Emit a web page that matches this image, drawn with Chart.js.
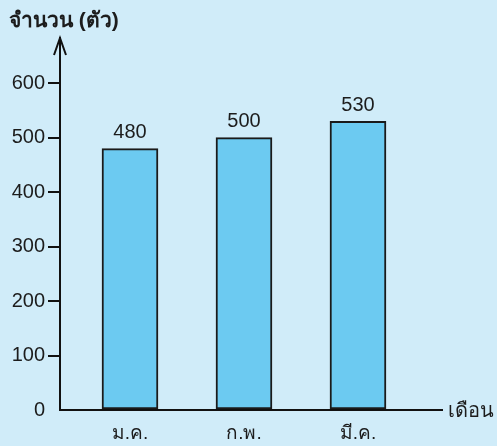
<!DOCTYPE html>
<html>
<head>
<meta charset="utf-8">
<script src="https://cdn.jsdelivr.net/npm/chart.js@4/dist/chart.umd.min.js"></script>
<style>
  html, body { margin: 0; padding: 0; background: #d0ecf9; }
  #wrap { width: 497px; height: 446px; position: relative; }
</style>
</head>
<body>
<div id="wrap"><canvas id="grafico"></canvas></div>
<script>
// Datos del gráfico
const meses = ['ม.ค.', 'ก.พ.', 'มี.ค.'];
const cantidades = [480, 500, 530];
const marcasY = [0, 100, 200, 300, 400, 500, 600];
const tituloY = 'จำนวน (ตัว)';
const tituloX = 'เดือน';

const fuente = '"Liberation Sans", Arial, sans-serif';
const colorTexto = '#1c1c1c';

// Textos de los ejes, flecha y valores sobre las barras
const decoraciones = {
    id: 'decoraciones',
    afterDraw(chart) {
        const ctx = chart.ctx;
        const area = chart.chartArea;
        ctx.save();

        // flecha en la punta del eje Y
        ctx.strokeStyle = '#111';
        ctx.lineWidth = 2;
        ctx.beginPath();
        ctx.moveTo(area.left - 6, area.top + 17);
        ctx.lineTo(area.left, area.top);
        ctx.lineTo(area.left + 6, area.top + 17);
        ctx.stroke();

        // valores encima de cada barra
        ctx.fillStyle = colorTexto;
        ctx.font = '20px ' + fuente;
        ctx.textAlign = 'center';
        ctx.textBaseline = 'bottom';
        chart.getDatasetMeta(0).data.forEach((bar, i) => {
            ctx.fillText(String(cantidades[i]), bar.x, bar.y - 6);
        });

        // títulos de los ejes
        ctx.font = 'bold 21px ' + fuente;
        ctx.textAlign = 'left';
        ctx.textBaseline = 'middle';
        ctx.fillText(tituloY, 9, 21);
        ctx.font = '20px ' + fuente;
        ctx.fillText(tituloX, area.right + 6, area.bottom + 1);
        ctx.restore();
    }
};

const ctx = document.getElementById('grafico').getContext('2d');
new Chart(ctx, {
    type: 'bar',
    data: {
        datasets: [{
            data: cantidades.map((v, i) => ({ x: i + 1, y: v })),
            backgroundColor: '#6ccaf1',
            borderColor: '#1a1a1a',
            borderWidth: 2,
            borderSkipped: false,
            barThickness: 56
        }]
    },
    options: {
        responsive: true,
        maintainAspectRatio: false,
        animation: false,
        layout: { padding: { top: 38, right: 55, left: 0, bottom: 0 } },
        plugins: {
            legend: { display: false },
            tooltip: { enabled: false }
        },
        scales: {
            x: {
                type: 'linear',
                offset: false,
                min: 0.386,
                max: 3.737,
                afterBuildTicks: (scale) => {
                    scale.ticks = meses.map((m, i) => ({ value: i + 1 }));
                },
                afterFit: (scale) => { scale.height = 36; },
                grid: { color: 'rgba(0,0,0,0)', drawTicks: false, offset: false },
                border: { display: true, color: '#111', width: 2 },
                ticks: {
                    padding: 12,
                    color: colorTexto,
                    font: { family: fuente, size: 19, weight: '500' },
                    callback: (v) => meses[v - 1]
                }
            },
            y: {
                min: 0,
                max: 683,
                afterBuildTicks: (scale) => {
                    scale.ticks = marcasY.map(v => ({ value: v }));
                },
                afterFit: (scale) => { scale.width = 60; },
                grid: {
                    drawOnChartArea: false,
                    drawTicks: true,
                    tickLength: 12,
                    lineWidth: 2,
                    color: (c) => c.tick && c.tick.value === 0 ? 'rgba(0,0,0,0)' : '#111'
                },
                border: { display: true, color: '#111', width: 2 },
                ticks: {
                    padding: 3,
                    color: colorTexto,
                    font: { family: fuente, size: 20 }
                }
            }
        }
    },
    plugins: [decoraciones]
});
</script>
</body>
</html>
